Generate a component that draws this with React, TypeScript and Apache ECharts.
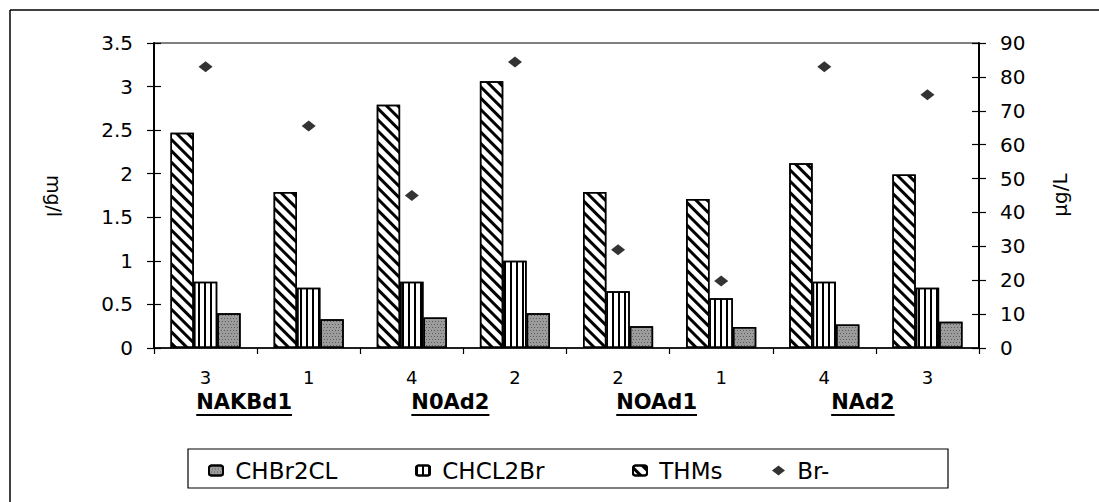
import { useEffect, useRef } from 'react';
import * as echarts from 'echarts';

const categories = ['3', '1', '4', '2', '2', '1', '4', '3'];
const groupLabels = ['NAKBd1', 'N0Ad2', 'NOAd1', 'NAd2'];
const thmsValues = [2.47, 1.79, 2.79, 3.06, 1.79, 1.71, 2.12, 1.99];
const chcl2brValues = [0.76, 0.69, 0.76, 1.0, 0.65, 0.57, 0.76, 0.69];
const chbr2clValues = [0.4, 0.33, 0.35, 0.4, 0.25, 0.24, 0.27, 0.3];
const brValues = [83, 65.5, 45, 84.4, 29, 19.8, 83, 74.7];
const leftAxis = { name: 'mg/l', min: 0, max: 3.5, interval: 0.5 };
const rightAxis = { name: 'µg/L', min: 0, max: 90, interval: 10 };
const legendNames = ['CHBr2CL', 'CHCL2Br', 'THMs', 'Br-'];

const FONT = 'DejaVu Sans';

export default function App() {
  const ref = useRef<HTMLDivElement>(null);
  useEffect(() => {
    document.body.style.margin = '0';
    const chart = echarts.init(ref.current!, null, { renderer: 'svg' });
    const legendLeft = [203, 410, 627, 767];
    const valueAxis = (ax: any, position: string, withLabels: boolean, inside: boolean) => ({
      type: 'value', min: ax.min, max: ax.max, interval: ax.interval,
      position,
      splitLine: { show: false },
      axisLine: { show: withLabels, lineStyle: { color: '#000', width: 2 } },
      axisTick: { show: true, inside, length: 7, lineStyle: { color: '#000', width: 1.2 } },
      axisLabel: { show: withLabels, fontFamily: FONT, fontSize: 20, color: '#000', margin: 21 },
    });
    const option: any = {
      animation: false,
      backgroundColor: '#fff',
      textStyle: { fontFamily: FONT, color: '#000' },
      grid: { left: 154, right: 120, top: 43, bottom: 154, show: true, borderColor: '#000', borderWidth: 1, backgroundColor: 'transparent' },
      legend: legendNames.map((n, i) => ({
        data: [n],
        left: legendLeft[i],
        top: 454,
        itemWidth: i === 3 ? 13 : 14,
        itemHeight: 10,
        formatter: (name: string) => ' ' + name,
        textStyle: { fontFamily: FONT, fontSize: 23, color: '#000' },
      })),
      xAxis: {
        type: 'category',
        data: categories,
        axisLine: { lineStyle: { color: '#000', width: 1.5 } },
        axisTick: { show: true, length: 6, lineStyle: { color: '#000', width: 1.2 } },
        axisLabel: { fontFamily: FONT, fontSize: 18, color: '#000', margin: 20 },
      },
      yAxis: [
        valueAxis(leftAxis, 'left', true, false),
        valueAxis(rightAxis, 'right', true, false),
        valueAxis(leftAxis, 'left', false, true),
        valueAxis(rightAxis, 'right', false, true),
      ],
      series: [
        {
          name: 'THMs', type: 'bar', data: thmsValues, barGap: '0%', barCategoryGap: '32%',
          itemStyle: {
            color: '#fff', borderColor: '#000', borderWidth: 1.5,
            decal: { symbol: 'rect', symbolSize: 1, color: '#000', dashArrayX: [1, 0], dashArrayY: [2.5, 4.5], rotation: Math.PI / 4 },
          },
        },
        {
          name: 'CHCL2Br', type: 'bar', data: chcl2brValues,
          itemStyle: {
            color: '#fff', borderColor: '#000', borderWidth: 1.5,
            decal: { symbol: 'rect', symbolSize: 1, color: '#000', dashArrayX: [1.8, 4], dashArrayY: [1, 0] },
          },
        },
        {
          name: 'CHBr2CL', type: 'bar', data: chbr2clValues,
          itemStyle: {
            color: '#9c9c9c', borderColor: '#000', borderWidth: 1.5,
            decal: { symbol: 'rect', symbolSize: 1, color: 'rgba(40,40,40,0.55)', dashArrayX: [[1, 2], [0, 2, 1, 0]], dashArrayY: [1, 1.5] },
          },
        },
        {
          name: 'Br-', type: 'scatter', yAxisIndex: 1, data: brValues,
          symbol: 'diamond', symbolSize: [14, 11],
          itemStyle: { color: '#000' },
        },
      ],
      graphic: [
        { type: 'line', shape: { x1: 10, y1: 10, x2: 1099, y2: 10 }, style: { stroke: '#000', lineWidth: 1.5 } },
        { type: 'line', shape: { x1: 10, y1: 10, x2: 10, y2: 502 }, style: { stroke: '#000', lineWidth: 1.5 } },
        { type: 'rect', shape: { x: 188, y: 449, width: 760, height: 39 }, style: { fill: 'none', stroke: '#000', lineWidth: 1.2 } },
        { type: 'text', x: 54, y: 196, rotation: -Math.PI / 2, style: { text: leftAxis.name, fontFamily: FONT, fontSize: 19, fill: '#000', textAlign: 'center', textVerticalAlign: 'middle' } },
        { type: 'text', x: 1060, y: 195, rotation: Math.PI / 2, style: { text: rightAxis.name, fontFamily: FONT, fontSize: 20, fill: '#000', textAlign: 'center', textVerticalAlign: 'middle' } },
      ],
    };
    chart.setOption(option);

    const ctx = document.createElement('canvas').getContext('2d')!;
    ctx.font = `bold 21px "${FONT}"`;
    const extra: any[] = [];
    groupLabels.forEach((g, k) => {
      const a = chart.convertToPixel({ xAxisIndex: 0 }, 2 * k) as number;
      const b = chart.convertToPixel({ xAxisIndex: 0 }, 2 * k + 1) as number;
      const cx = (a + b) / 2 - 13;
      const w = ctx.measureText(g).width;
      extra.push({ type: 'text', x: cx, y: 402, style: { text: g, fontFamily: FONT, fontWeight: 'bold', fontSize: 21, fill: '#000', textAlign: 'center', textVerticalAlign: 'middle' } });
      extra.push({ type: 'line', shape: { x1: cx - w / 2, y1: 415, x2: cx + w / 2, y2: 415 }, style: { stroke: '#000', lineWidth: 2 } });
    });
    chart.setOption({ graphic: [...option.graphic, ...extra] });
    return () => chart.dispose();
  }, []);
  return <div ref={ref} style={{ width: 1099, height: 502 }} />;
}
